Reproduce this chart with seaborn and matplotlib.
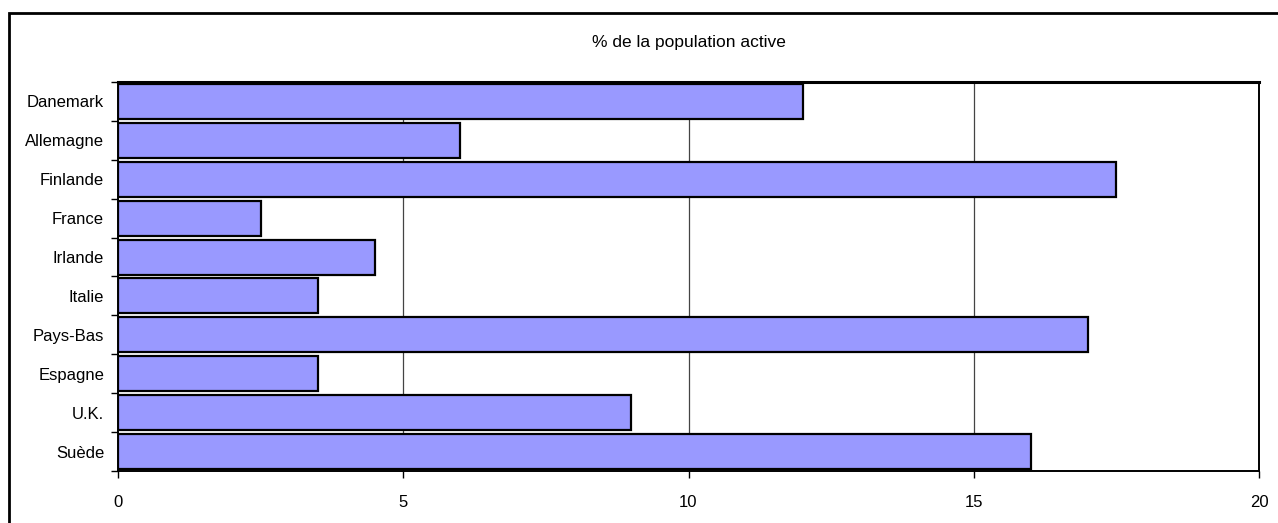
import matplotlib
matplotlib.use('Agg')
import matplotlib.pyplot as plt
import seaborn as sns
import pandas as pd
import numpy as np
from matplotlib.patches import Rectangle

# Donnees
pays = ['Danemark', 'Allemagne', 'Finlande', 'France', 'Irlande',
        'Italie', 'Pays-Bas', 'Espagne', 'U.K.', 'Suède']
valeurs = [12.0, 6.0, 17.5, 2.5, 4.5, 3.5, 17.0, 3.5, 9.0, 16.0]
titre = '% de la population active'
xticks = [0, 5, 10, 15, 20]

sns.set_style('white')
plt.rcParams['font.family'] = ['Liberation Sans', 'DejaVu Sans']
plt.rcParams['text.color'] = 'black'
plt.rcParams['xtick.color'] = 'black'
plt.rcParams['ytick.color'] = 'black'

df = pd.DataFrame({'pays': pays, 'valeur': valeurs})

W, H = 1278, 523
fig = plt.figure(figsize=(W / 100, H / 100), dpi=100)
ax = fig.add_axes([118 / W, 1 - 471 / H, (1259 - 118) / W, (471 - 82) / H])

sns.barplot(data=df, x='valeur', y='pays', orient='h', color='#9999FF',
            saturation=1, width=0.9, edgecolor='black', linewidth=1.6, ax=ax,
            zorder=3)

ax.set_xlim(0, 20)
ax.set_ylim(len(pays) - 0.5, -0.5)
ax.set_xticks(xticks)
ax.set_xticklabels([str(t) for t in xticks], fontsize=12)
ax.set_xlabel('')
ax.set_ylabel('')

# graduations verticales
for t in xticks[1:-1]:
    ax.axvline(t, color='#444444', linewidth=0.9, zorder=1)

# ticks de l'axe y aux limites des categories
ax.set_yticks(np.arange(len(pays)))
ax.set_yticklabels(pays, fontsize=12)
ax.set_yticks(np.arange(len(pays) + 1) - 0.5, minor=True)
ax.tick_params(axis='y', which='major', left=False, length=0, pad=10)
ax.tick_params(axis='y', which='minor', left=True, length=5, width=1, color='black', direction='out')
ax.tick_params(axis='x', which='major', bottom=True, length=5, width=1, color='black', direction='out', pad=12)

for s in ax.spines.values():
    s.set_visible(True)
    s.set_color('black')
    s.set_linewidth(1.4)
ax.spines['top'].set_linewidth(2.2)

fig.text((118 + 1259) / 2 / W, 1 - 42 / H, titre, ha='center', va='center', fontsize=12.5)

# cadre exterieur
fig.patches.append(Rectangle((9 / W, -0.1), 1.2, 1 - 13 / H + 0.1, transform=fig.transFigure,
                             fill=False, edgecolor='black', linewidth=2))

fig.savefig('out.png', dpi=100)
